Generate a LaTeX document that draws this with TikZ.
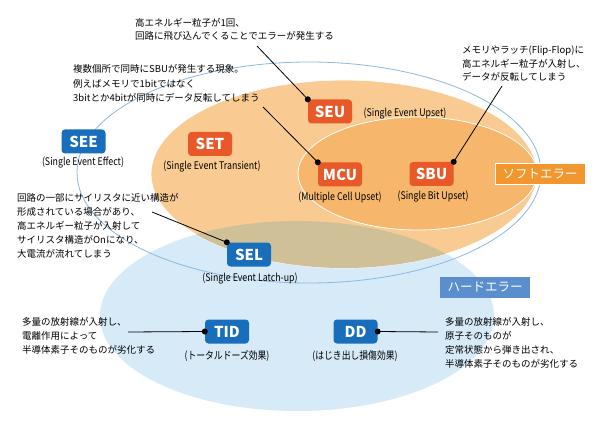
\documentclass[tikz,border=0pt]{standalone}
\usepackage{fontspec}
\setmainfont{Noto Sans CJK JP}
\newfontfamily\condfont[FakeStretch=0.84]{Noto Sans CJK JP}
\definecolor{bluefill}{RGB}{214,234,248}
\definecolor{orangeout}{RGB}{249,203,146}
\definecolor{orangein}{RGB}{246,183,108}
\definecolor{olivemix}{RGB}{208,192,152}
\definecolor{boxblue}{RGB}{24,110,186}
\definecolor{boxorange}{RGB}{232,88,40}
\definecolor{softorange}{RGB}{242,151,46}
\definecolor{hardblue}{RGB}{90,142,204}
\definecolor{seeline}{RGB}{140,185,222}
\begin{document}
\begin{tikzpicture}[x=1pt,y=-1pt,
  bbox/.style={fill=boxblue, rounded corners=3.5pt, minimum width=44pt, minimum height=24pt, inner sep=0pt, text=white, font=\fontsize{15}{15}\selectfont\bfseries},
  obox/.style={bbox, fill=boxorange},
  errlabel/.style={minimum width=90pt, minimum height=21pt, inner sep=0pt, text=white, font=\fontsize{12.5}{12.5}\selectfont},
  sublabel/.style={inner sep=0pt, font=\condfont\fontsize{10.5}{11}\selectfont},
  note/.style={inner sep=0pt, align=left, anchor=base west},
  conn/.style={draw=black, line width=0.8pt},
  dotmark/.style={fill=black}
]
\useasboundingbox (0,0) rectangle (600,425);
\fill[white] (0,0) rectangle (600,425);
% hard error region
\fill[bluefill] (297,316) ellipse [x radius=197, y radius=95];
% soft error region
\fill[orangeout] (344,174) ellipse [x radius=193, y radius=94];
\draw[white, line width=0.8pt] (344,174) ellipse [x radius=193, y radius=94];
\begin{scope}
  \clip (297,316) ellipse [x radius=197, y radius=95];
  \fill[olivemix] (344,174) ellipse [x radius=193, y radius=94];
\end{scope}
% SEU inner region
\fill[orangein] (417.5,173.5) ellipse [x radius=119.5, y radius=56.5];
\draw[white, line width=0.8pt] (417.5,173.5) ellipse [x radius=119.5, y radius=56.5];
% SEE outline
\draw[seeline, line width=0.8pt] (309,172.5) ellipse [x radius=232, y radius=110.5];

% boxes
\node[bbox] (see) at (83.5,141.5) {SEE};
\node[obox] (set) at (210,144) {SET};
\node[obox] (seu) at (330,111.5) {SEU};
\node[obox] (mcu) at (340,174.5) {MCU};
\node[obox] (sbu) at (431.5,174) {SBU};
\node[bbox] (sel) at (249,254.5) {SEL};
\node[bbox] (tid) at (227,331.5) {TID};
\node[bbox] (dd) at (355.5,331.5) {DD};
\node[errlabel, fill=softorange, draw=white, line width=0.8pt] (soft) at (540,173.5) {ソフトエラー};
\node[errlabel, fill=hardblue] (hard) at (485,287) {ハードエラー};

% sublabels
\node[sublabel] (seel) at (83,163) {(Single Event Effect)};
\node[sublabel] (setl) at (212,167) {(Single Event Transient)};
\node[sublabel] (seul) at (405,114) {(Single Event Upset)};
\node[sublabel] (mcul) at (340,197) {(Multiple Cell Upset)};
\node[sublabel] (sbul) at (433,197) {(Single Bit Upset)};
\node[sublabel] (sell) at (250,279) {(Single Event Latch-up)};
\node[sublabel] (tidl) at (227,356) {(トータルドーズ効果)};
\node[sublabel] (ddl) at (355,356) {(はじき出し損傷効果)};

% notes (anchored at the baseline of the last line)
\node[note, font=\fontsize{9.5}{12.5}\selectfont] (n1) at (135,39.5) {高エネルギー粒子が1回、\\回路に飛び込んでくることでエラーが発生する};
\node[note, font=\fontsize{9.5}{14.5}\selectfont] (n2) at (73,102) {複数個所で同時にSBUが発生する現象。\\例えばメモリで1bitではなく\\3bitとか4bitが同時にデータ反転してしまう};
\node[note, font=\fontsize{9.5}{13.5}\selectfont] (n3) at (462,81) {メモリやラッチ(Flip-Flop)に\\高エネルギー粒子が入射し、\\データが反転してしまう};
\node[note, font=\fontsize{9.5}{13.8}\selectfont] (n4) at (17,257) {回路の一部にサイリスタに近い構造が\\形成されている場合があり、\\高エネルギー粒子が入射して\\サイリスタ構造がOnになり、\\大電流が流れてしまう};
\node[note, font=\fontsize{9.5}{13.7}\selectfont] (n5) at (22,353) {多量の放射線が入射し、\\電離作用によって\\半導体素子そのものが劣化する};
\node[note, font=\fontsize{9.5}{14}\selectfont] (n6) at (445,367) {多量の放射線が入射し、\\原子そのものが\\定常状態から弾き出され、\\半導体素子そのものが劣化する};

% connectors
\coordinate (c1) at (257,46);
\coordinate (c2) at (263,107);
\coordinate (c3) at (502,86);
\coordinate (c4) at (152,212);
\coordinate (c5) at (128,332);
\coordinate (c6) at (438,332);
\draw[conn] (c1) -- (seu.north west);
\draw[conn] (c2) -- (mcu.north west);
\draw[conn] (c3) -- (sbu.north east);
\draw[conn] (c4) -- (sel.north west);
\draw[conn] (c5) -- (tid.west);
\draw[conn] (c6) -- (dd.east);
\fill[dotmark] (seu.north west) circle (3pt);
\fill[dotmark] (mcu.north west) circle (3pt);
\fill[dotmark] (sbu.north east) circle (3pt);
\fill[dotmark] (sel.north west) circle (3pt);
\fill[dotmark] (tid.west) circle (3pt);
\fill[dotmark] (dd.east) circle (3pt);
\end{tikzpicture}
\end{document}
